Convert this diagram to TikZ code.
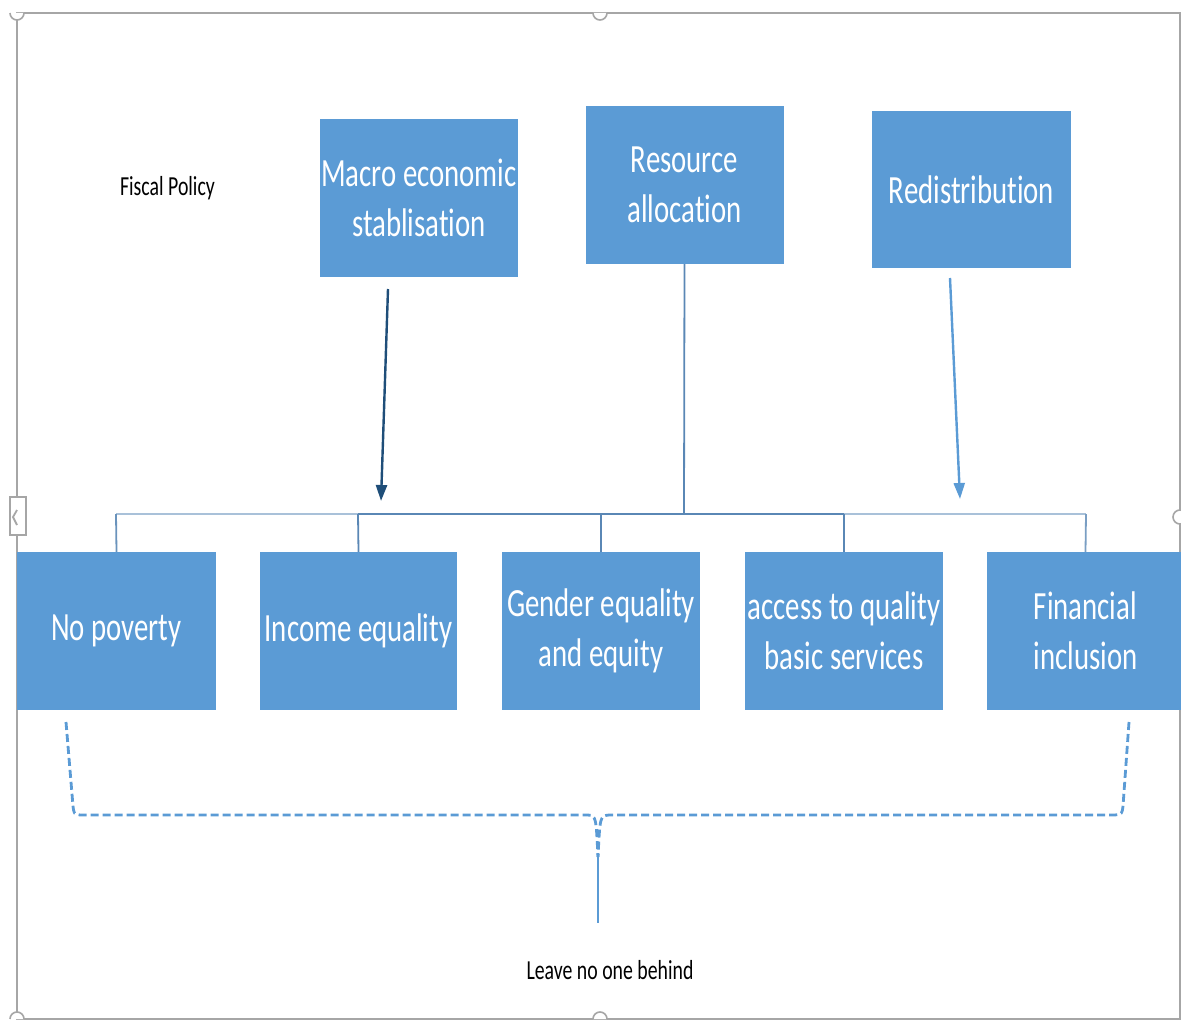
\documentclass[tikz,border=0pt]{standalone}
\usepackage{fontspec}
\setmainfont[FakeStretch=0.72,Ligatures=NoCommon]{Carlito}
\usetikzlibrary{arrows.meta}
\definecolor{boxblue}{HTML}{5B9BD5}
\definecolor{darkarrow}{HTML}{1F4E79}
\definecolor{busdark}{HTML}{5A87B5}
\definecolor{buslight}{HTML}{A9C1D9}
\definecolor{framegray}{HTML}{A6A6A6}
\tikzset{
  topicbox/.style={fill=boxblue, minimum width=198pt, minimum height=158pt, inner sep=0pt,
    align=center, text=white, font=\fontsize{40}{50}\selectfont},
  plainlabel/.style={inner sep=0pt, anchor=base, text=black, font=\fontsize{27.5}{30}\selectfont},
  handle/.style={draw=framegray, line width=1.6pt, fill=white},
  busline/.style={line width=2.6pt},
  dropline/.style={line width=1.8pt, draw=busdark},
  bracedash/.style={draw=boxblue, line width=2.8pt, dash pattern=on 8pt off 4pt},
  arrowtip/.style={-{Triangle[length=16pt,width=11pt]}, line width=2.4pt}
}
\begin{document}
\begin{tikzpicture}[x=1pt,y=-1pt]
\useasboundingbox (0,0) rectangle (1181,1022);
\begin{scope}
\clip (0,0) rectangle (1181,1022);
% frame
\draw[framegray, line width=1.8pt] (17,13) rectangle (1180,1019);
% handles
\draw[handle] (10,13) arc[start angle=180,end angle=360,radius=7pt];
\draw[handle] (593,13) arc[start angle=180,end angle=360,radius=7pt];
\draw[handle] (10,1019) arc[start angle=180,end angle=0,radius=7pt];
\draw[handle] (593,1019) arc[start angle=180,end angle=0,radius=7pt];
\draw[handle] (1180,517) circle[radius=7pt];
\draw[handle] (10,497) rectangle (26,535);
\draw[framegray, line width=1.8pt] (17,510) -- (13,517) -- (17,525);

% top boxes
\node[topicbox] (macro) at (419,198) {Macro economic\\stablisation};
\node[topicbox] (resource) at (684.5,185) {Resource\\allocation};
\node[topicbox, minimum width=199pt, minimum height=157pt] (redis) at (971.5,189.5) {Redistribution};

% bottom boxes
\node[topicbox, minimum width=199pt] (nopov) at (116.5,631) {No poverty};
\node[topicbox, minimum width=197pt] (income) at (358.5,631) {Income equality};
\node[topicbox] (gender) at (601,631) {Gender equality\\and equity};
\node[topicbox] (access) at (844,631) {access to quality\\basic services};
\node[topicbox, minimum width=197pt] (fin) at (1085.5,631) {Financial\\inclusion};

% labels
\node[plainlabel] (fiscal) at (167.5,195) {Fiscal Policy};
\node[plainlabel] (leave) at (610,979) {Leave no one behind};

% org connector bus
\coordinate (b1) at (116,514);
\coordinate (b2) at (358,514);
\coordinate (b3) at (601,514);
\coordinate (b4) at (844,514);
\coordinate (b5) at (1086,514);
\coordinate (bres) at (684,514);
\draw[dropline] (resource.south) -- (bres);
\draw[busline, buslight] (b1) -- (b2);
\draw[busline, busdark] (b2) -- (b4);
\draw[busline, buslight] (b4) -- (b5);
\draw[dropline, draw=busdark!80!buslight] (b1) -- (nopov.north);
\draw[dropline] (b2) -- (income.north);
\draw[dropline] (b3) -- (gender.north);
\draw[dropline] (b4) -- (access.north);
\draw[dropline, draw=busdark!60!buslight] (b5) -- (fin.north);

% arrows
\coordinate (a1s) at (388,289);
\coordinate (a1e) at (381,501);
\coordinate (a2s) at (950,278);
\coordinate (a2e) at (960,499);
\draw[arrowtip, darkarrow] (a1s) -- (a1e);
\draw[arrowtip, boxblue] (a2s) -- (a2e);

% brace
\coordinate (brL) at (66,722);
\coordinate (brR) at (1129,722);
\coordinate (brTip) at (598,857);
\coordinate (brEnd) at (598,923);
\draw[bracedash] (brL) -- (73,806) .. controls (74,814) .. (80,815) -- (588,815)
   .. controls (596,816) .. (598,857);
\draw[bracedash] (brR) -- (1123,806) .. controls (1122,814) .. (1115,815) -- (609,815)
   .. controls (600,816) .. (598,857);
\draw[draw=boxblue, line width=2.6pt] (brTip) -- (brEnd);
\end{scope}
\end{tikzpicture}
\end{document}
